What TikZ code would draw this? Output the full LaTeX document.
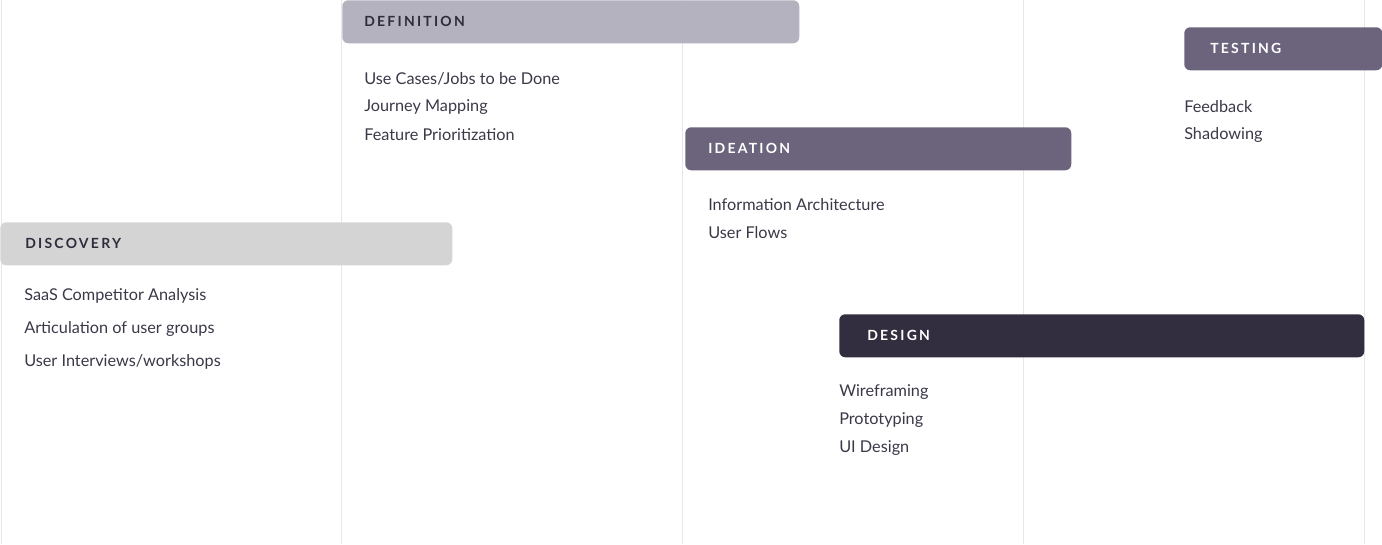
\documentclass[tikz,border=0pt]{standalone}
\usepackage{fontspec}
\setmainfont{Lato}
\usetikzlibrary{positioning}

\definecolor{gridgray}{HTML}{E7E7E9}
\definecolor{inkdark}{HTML}{2F2C3B}
\definecolor{itemgray}{HTML}{3B3848}
\definecolor{discfill}{HTML}{D4D4D4}
\definecolor{deffill}{HTML}{B4B2BF}
\definecolor{ideafill}{HTML}{6B647C}
\definecolor{designfill}{HTML}{322E40}

\newcommand{\phasefont}{\fontsize{10.5pt}{12pt}\selectfont\bfseries\addfontfeatures{LetterSpace=16}}

\tikzset{
	phase/.style={anchor=north west, rounded corners=4.5pt, minimum height=32.25pt,
		inner xsep=18pt, inner ysep=0pt, align=left, text=inkdark, font=\phasefont,
		text depth=0.9pt},
	phaselight/.style={phase, text=white},
	item/.style={anchor=west, inner sep=0pt, text=itemgray, font=\fontsize{12.2pt}{14pt}\selectfont}
}

\begin{document}
\begin{tikzpicture}[x=0.75pt, y=-0.75pt]
	\useasboundingbox (0,0) rectangle (1382,544);

	% column rules
	\foreach \cx in {1, 341, 682, 1023, 1364}
		\draw [gridgray, line width=0.75pt] (\cx,0) -- (\cx,544);

	% phases
	\node [phase, fill=discfill, text width=301.5pt, inner xsep=18.75pt] (discovery) at (0,222) {DISCOVERY};
	\node [phase, fill=deffill, text width=309.75pt, inner xsep=16.5pt] (definition) at (342,0) {DEFINITION};
	\node [phaselight, fill=ideafill, text width=255pt, inner xsep=17.25pt] (ideation) at (685,127) {IDEATION};
	\node [phaselight, fill=designfill, text width=351.75pt, inner xsep=21pt] (design) at (839,314) {DESIGN};
	\node [phaselight, fill=ideafill, text width=109.5pt, inner xsep=19.5pt] (testing) at (1184,27) {TESTING};

	% tasks
	\node [item] (disc1) at (24,296) {SaaS Competitor Analysis};
	\node [item] (disc2) at (24,329) {Articulation of user groups};
	\node [item] (disc3) at (24,362) {User Interviews/workshops};

	\node [item] (def1) at (364,79) {Use Cases/Jobs to be Done};
	\node [item] (def2) at (364,107) {Journey Mapping};
	\node [item] (def3) at (364,135) {Feature Prioritization};

	\node [item] (idea1) at (708,205) {Information Architecture};
	\node [item] (idea2) at (708,233) {User Flows};

	\node [item] (des1) at (839,392) {Wireframing};
	\node [item] (des2) at (839,420) {Prototyping};
	\node [item] (des3) at (839,448) {UI Design};

	\node [item] (test1) at (1184,107) {Feedback};
	\node [item] (test2) at (1184,135) {Shadowing};
\end{tikzpicture}
\end{document}
